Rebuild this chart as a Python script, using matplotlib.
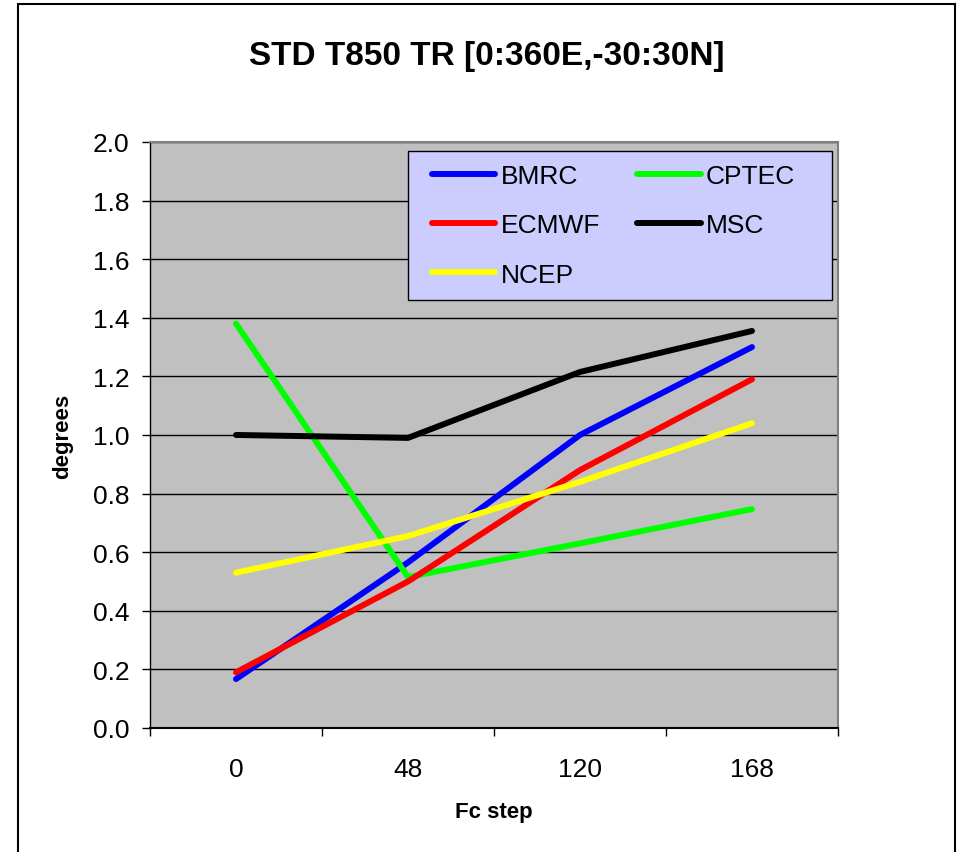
import numpy as np
import matplotlib
matplotlib.use('Agg')
import matplotlib.pyplot as plt
from matplotlib.patches import Rectangle

plt.rcParams['font.family'] = ['Liberation Sans', 'DejaVu Sans']

# data
steps = ['0', '48', '120', '168']
bmrc = [0.167, 0.565, 1.00, 1.30]
cptec = [1.38, 0.515, 0.63, 0.747]
ecmwf = [0.19, 0.50, 0.88, 1.19]
msc = [1.00, 0.99, 1.215, 1.355]
ncep = [0.53, 0.655, 0.84, 1.04]

series = [('BMRC', bmrc, '#0000FF'), ('CPTEC', cptec, '#00FF00'),
          ('ECMWF', ecmwf, '#FF0000'), ('MSC', msc, '#000000'),
          ('NCEP', ncep, '#FFFF00')]

fig = plt.figure(figsize=(9.61, 8.53), dpi=100)
ax = fig.add_axes([0.1561, 0.1454, 0.7159, 0.687])
ax.set_facecolor('#C0C0C0')

x = np.arange(len(steps))
lines = {}
for name, vals, col in series:
    lines[name], = ax.plot(x, vals, color=col, lw=4.3, solid_capstyle='round',
                           solid_joinstyle='round', label=name, zorder=3)

ax.set_xlim(-0.5, len(steps) - 0.5)
ax.set_ylim(0, 2.0)
ax.set_yticks(np.arange(0, 2.01, 0.2))
ax.set_yticklabels(['%.1f' % v for v in np.arange(0, 2.01, 0.2)])
ax.set_xticks(x)
ax.set_xticklabels(steps)
ax.set_xticks(np.arange(-0.5, len(steps), 1.0), minor=True)
ax.tick_params(axis='x', which='major', length=0, pad=21, labelsize=19)
ax.tick_params(axis='x', which='minor', length=6, width=1, direction='out')
ax.tick_params(axis='y', length=6, width=1, direction='out', pad=9, labelsize=19)
ax.grid(axis='y', color='black', lw=1, zorder=1)

for s in ['right', 'top']:
    ax.spines[s].set_color('#808080')
    ax.spines[s].set_linewidth(1.5)
ax.spines['bottom'].set_color('black')
ax.spines['bottom'].set_linewidth(1.5)
ax.spines['left'].set_color('black')
ax.spines['left'].set_linewidth(1)

ax.set_ylabel('degrees', fontsize=16, fontweight='bold', labelpad=14)
ax.set_xlabel('Fc step', fontsize=16, fontweight='bold', labelpad=14)

# legend box drawn separately so the padding can match the reference
ax.add_patch(Rectangle((0.375, 0.730), 0.616, 0.254, transform=ax.transAxes,
                       facecolor='#CCCCFF', edgecolor='black', lw=1, zorder=4.5))

# row-major legend order as in the reference
order = ['BMRC', 'ECMWF', 'NCEP', 'CPTEC', 'MSC']
leg = ax.legend([lines[n] for n in order], order, ncol=2, loc='upper left',
                bbox_to_anchor=(0.41, 0.9625, 0.528, 0.0), mode='expand',
                fontsize=19, frameon=False,
                handlelength=2.4, handletextpad=0.2, labelspacing=0.96,
                borderaxespad=0, borderpad=0, columnspacing=1.0)
leg.set_zorder(5)

fig.text(0.506, 0.934, 'STD T850 TR [0:360E,-30:30N]', ha='center', va='center',
         fontsize=24, fontweight='bold')

# chart frame
fig.patches.append(Rectangle((18 / 961, -0.01), (955 - 18) / 961, 1.0 - 5 / 853 + 0.01,
                             transform=fig.transFigure, fill=False,
                             edgecolor='black', lw=1.5))

fig.savefig('out.png', dpi=100)
